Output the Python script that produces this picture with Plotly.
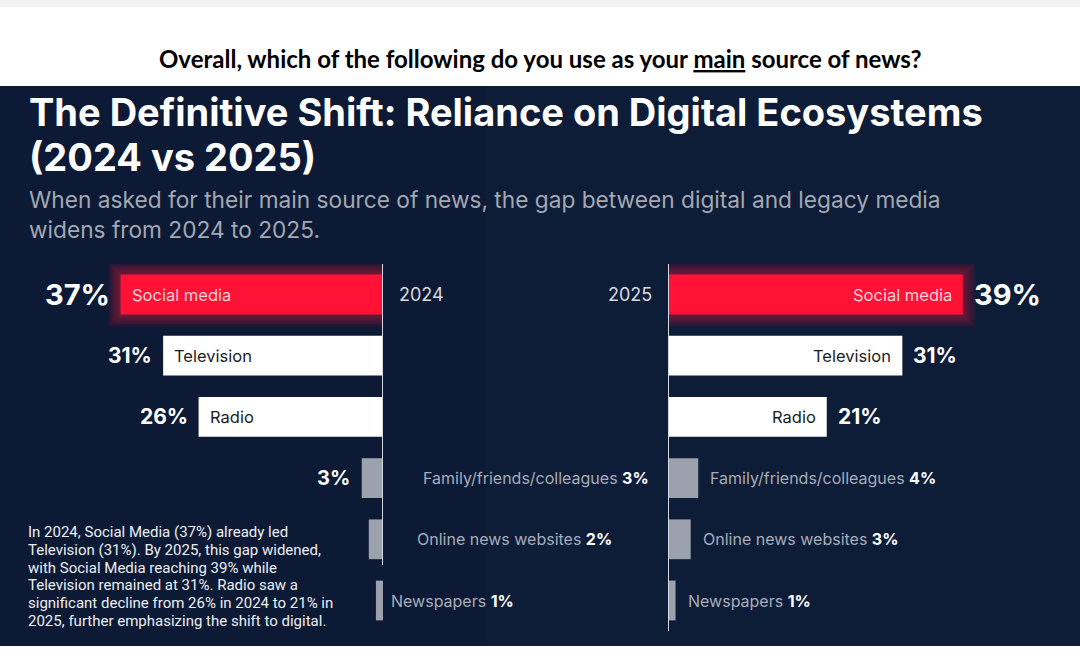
import plotly.graph_objects as go

# ---------------- data ----------------
categories = ["Social media", "Television", "Radio",
              "Family/friends/colleagues", "Online news websites", "Newspapers"]
values_2024 = [37, 31, 26, 3, 2, 1]
values_2025 = [39, 31, 21, 4, 3, 1]
years = ["2024", "2025"]

header = "Overall, which of the following do you use as your <u>main</u> source of news?"
title_lines = ["The Definitive Shift: Reliance on Digital Ecosystems", "(2024 vs 2025)"]
subtitle_lines = ["When asked for their main source of news, the gap between digital and legacy media",
                  "widens from 2024 to 2025."]
note_lines = ["In 2024, Social Media (37%) already led",
              "Television (31%). By 2025, this gap widened,",
              "with Social Media reaching 39% while",
              "Television remained at 31%. Radio saw a",
              "significant decline from 26% in 2024 to 21% in",
              "2025, further emphasizing the shift to digital."]

# ---------------- style ----------------
W, H = 1080, 662
NAVY = "#0c1a35"
RED = "#ff1235"
WHITE = "#ffffff"
GREY = "#9ba1ad"
LABEL_GREY = "#a7adb8"
FONT = "Inter"

bar_colors = [RED, WHITE, WHITE, GREY, GREY, GREY]
idx = list(range(len(categories)))

LEFT_AXIS_PX = 383
RIGHT_AXIS_PX = 668
left_range_max = 54.0
right_range_max = 54.5
left_scale = LEFT_AXIS_PX / left_range_max          # px per %
right_scale = (W - RIGHT_AXIS_PX) / right_range_max  # px per %
row_px = 61.2
y_dom = [1 - 631.1 / H, 1 - 263.9 / H]

def py(px):
    return 1 - px / H

def pxx(px):
    return px / W

fig = go.Figure()

fig.add_trace(go.Bar(
    x=values_2024, y=idx, orientation="h", xaxis="x", yaxis="y",
    marker=dict(color=bar_colors, line=dict(width=0)),
    width=0.65, hoverinfo="skip", showlegend=False, name=years[0]))
fig.add_trace(go.Bar(
    x=values_2025, y=idx, orientation="h", xaxis="x2", yaxis="y",
    marker=dict(color=bar_colors, line=dict(width=0)),
    width=0.65, hoverinfo="skip", showlegend=False, name=years[1]))

shapes = []
# top light strip and dark panel
shapes.append(dict(type="rect", xref="paper", yref="paper", x0=0, x1=1, y0=py(7), y1=1,
                   fillcolor="#f2f2f2", line=dict(width=0), layer="below"))
shapes.append(dict(type="rect", xref="paper", yref="paper", x0=0, x1=1, y0=py(646), y1=py(86),
                   fillcolor=NAVY, line=dict(width=0), layer="below"))
# subtle lighter top-right region
shapes.append(dict(type="rect", xref="paper", yref="paper", x0=0.45, x1=1, y0=py(646), y1=py(86),
                   fillcolor="rgba(30,45,80,0.10)", line=dict(width=0), layer="below"))

# soft glow around the leading bars
for k in range(1, 13):
    pad = 1.1 * k
    a = 0.045
    shapes.append(dict(type="rect", xref="x", yref="y",
                       x0=values_2024[0] + pad / left_scale, x1=-pad / left_scale,
                       y0=0 - 0.325 - pad / row_px, y1=0 + 0.325 + pad / row_px,
                       fillcolor=f"rgba(255,20,60,{a})", line=dict(width=0), layer="below"))
    shapes.append(dict(type="rect", xref="x2", yref="y",
                       x0=-pad / right_scale, x1=values_2025[0] + pad / right_scale,
                       y0=0 - 0.325 - pad / row_px, y1=0 + 0.325 + pad / row_px,
                       fillcolor=f"rgba(255,20,60,{a})", line=dict(width=0), layer="below"))

# axis lines
shapes.append(dict(type="line", xref="x", yref="y", x0=0, x1=0, y0=-0.53, y1=4.42,
                   line=dict(color="#d5d8de", width=2), layer="above"))
shapes.append(dict(type="line", xref="x2", yref="y", x0=0, x1=0, y0=-0.53, y1=5.55,
                   line=dict(color="#d5d8de", width=2), layer="above"))

ann = []
# header
ann.append(dict(text="<b>" + header + "</b>", xref="paper", yref="paper", x=0.5, y=py(58),
                xanchor="center", yanchor="middle", showarrow=False,
                font=dict(family="Lato", size=24, color="#000000")))
# title
for i, line in enumerate(title_lines):
    ann.append(dict(text="<b>" + line + "</b>", xref="paper", yref="paper", x=pxx(27), y=py(112 + 45 * i),
                    xanchor="left", yanchor="middle", showarrow=False,
                    font=dict(family=FONT, size=38, color="#ffffff")))
for i, line in enumerate(subtitle_lines):
    ann.append(dict(text=line, xref="paper", yref="paper", x=pxx(27), y=py(200 + 29 * i),
                    xanchor="left", yanchor="middle", showarrow=False,
                    font=dict(family=FONT, size=22.7, color="#a3a8b2")))
# note
for i, line in enumerate(note_lines):
    ann.append(dict(text=line, xref="paper", yref="paper", x=pxx(26), y=py(532 + 17.8 * i),
                    xanchor="left", yanchor="middle", showarrow=False,
                    font=dict(family="Roboto", size=15, color="#eceef1")))

# year labels
ann.append(dict(text=years[0], xref="x", yref="y", x=0, y=0, xanchor="left", xshift=14,
                showarrow=False, font=dict(family=FONT, size=18, color="#d7dae0")))
ann.append(dict(text=years[1], xref="x2", yref="y", x=0, y=0, xanchor="right", xshift=-14,
                showarrow=False, font=dict(family=FONT, size=18, color="#d7dae0")))

big_sizes = [29, 21, 21]
inner_colors = ["#ffd3da", "#1d1d1d", "#1d1d1d"]
for i in range(3):
    # 2024 side
    ann.append(dict(text=f"<b>{values_2024[i]}%</b>", xref="x", yref="y", x=values_2024[i], y=i,
                    xanchor="right", xshift=-9, showarrow=False,
                    font=dict(family=FONT, size=big_sizes[i], color="#ffffff")))
    ann.append(dict(text=categories[i], xref="x", yref="y", x=values_2024[i], y=i,
                    xanchor="left", xshift=9, showarrow=False,
                    font=dict(family=FONT, size=16.5, color=inner_colors[i])))
    # 2025 side
    ann.append(dict(text=f"<b>{values_2025[i]}%</b>", xref="x2", yref="y", x=values_2025[i], y=i,
                    xanchor="left", xshift=9, showarrow=False,
                    font=dict(family=FONT, size=big_sizes[i], color="#ffffff")))
    ann.append(dict(text=categories[i], xref="x2", yref="y", x=values_2025[i], y=i,
                    xanchor="right", xshift=-9, showarrow=False,
                    font=dict(family=FONT, size=16.5, color=inner_colors[i])))

# small categories
ann.append(dict(text=f"<b>{values_2024[3]}%</b>", xref="x", yref="y", x=values_2024[3], y=3,
                xanchor="right", xshift=-10, showarrow=False,
                font=dict(family=FONT, size=20, color="#ffffff")))
left_small_pos = [(651, "right"), (415, "left"), (389, "left")]
for j, i in enumerate(range(3, 6)):
    px, anc = left_small_pos[j]
    ann.append(dict(text=f"{categories[i]} <span style='color:#ffffff'><b>{values_2024[i]}%</b></span>",
                    xref="paper", yref="y", x=pxx(px), y=i, xanchor=anc, showarrow=False,
                    font=dict(family=FONT, size=16, color=LABEL_GREY)))
    ann.append(dict(text=f"{categories[i]} <span style='color:#ffffff'><b>{values_2025[i]}%</b></span>",
                    xref="x2", yref="y", x=values_2025[i], y=i, xanchor="left", xshift=10,
                    showarrow=False, font=dict(family=FONT, size=16, color=LABEL_GREY)))

fig.update_layout(
    width=W, height=H, margin=dict(l=0, r=0, t=0, b=0),
    paper_bgcolor="#ffffff", plot_bgcolor="rgba(0,0,0,0)",
    barmode="overlay",
    xaxis=dict(domain=[0, LEFT_AXIS_PX / W], range=[left_range_max, 0], visible=False,
               fixedrange=True, anchor="y"),
    xaxis2=dict(domain=[RIGHT_AXIS_PX / W, 1], range=[0, right_range_max], visible=False,
                fixedrange=True, anchor="y"),
    yaxis=dict(domain=y_dom, range=[5.5, -0.5], visible=False, fixedrange=True),
    shapes=shapes, annotations=ann,
)

fig.write_html("out.html", config={"displayModeBar": False},
               post_script="document.body.style.margin='0';document.body.style.overflow='hidden';")
